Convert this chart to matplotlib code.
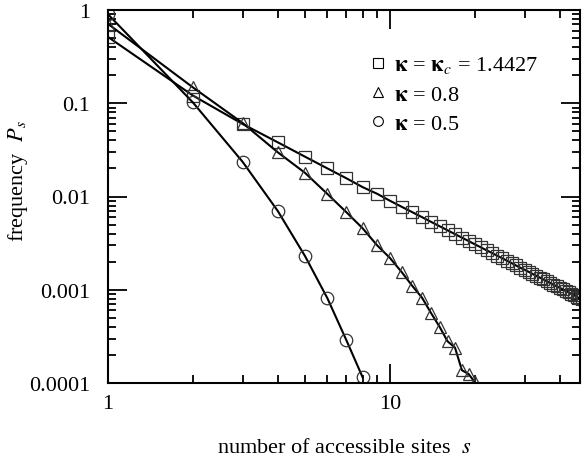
import matplotlib
matplotlib.use('Agg')
import matplotlib.pyplot as plt
from matplotlib.lines import Line2D
from matplotlib.ticker import LogLocator, FixedLocator, FixedFormatter, NullFormatter

plt.rcParams['font.family'] = ['Liberation Serif', 'DejaVu Serif']
plt.rcParams['mathtext.fontset'] = 'stix'

# kappa = kappa_c = 1.4427 (squares)
s_crit = list(range(1, 49))
p_crit = [0.514, 0.121, 0.0600, 0.0381, 0.0267, 0.0200, 0.0157, 0.0126, 0.0107, 0.0090,
          0.00776, 0.00679, 0.00600, 0.00534, 0.00480, 0.00434, 0.00395, 0.00362, 0.00333, 0.00307,
          0.00285, 0.00265, 0.00248, 0.00232, 0.00218, 0.00205, 0.00193, 0.00182, 0.00172, 0.00164,
          0.00156, 0.00148, 0.00141, 0.00135, 0.00129, 0.00123, 0.00118, 0.00113, 0.00109, 0.00105,
          0.00101, 0.00097, 0.00094, 0.00090, 0.00087, 0.00084, 0.00081, 0.00079]

# kappa = 0.8 (triangles)
s_08 = list(range(1, 21))
p_08 = [0.71, 0.148, 0.0615, 0.0298, 0.0179, 0.01064, 0.0068, 0.00456, 0.0030, 0.00219,
        0.00155, 0.00110, 0.00082, 0.00056, 0.00040, 0.00028, 0.00024, 0.000137, 0.000125, 0.000102]

# kappa = 0.5 (circles)
s_05 = [1, 2, 3, 4, 5, 6, 7, 8]
p_05 = [0.90, 0.102, 0.0236, 0.0070, 0.00229, 0.00081, 0.000289, 0.000115]

labels = [r'$\mathbf{\kappa}$ = $\mathbf{\kappa}_c$ = 1.4427', r'$\mathbf{\kappa}$ = 0.8', r'$\mathbf{\kappa}$ = 0.5']
markers = ['s', '^', 'o']

fig = plt.figure(figsize=(5.84, 4.60), dpi=100)
ax = fig.add_axes([108/584, 76/460, 472/584, 373/460])

mk = dict(mfc='none', mec='#333333', mew=0.9, ms=9, color='black', lw=1.5)
ax.plot(s_crit, p_crit, marker='s', **mk)
ax.plot(s_08, p_08, marker='^', **mk)
ax.plot(s_05, p_05, marker='o', **mk)

ax.set_xscale('log')
ax.set_yscale('log')
ax.set_xlim(1, 47.2)
ax.set_ylim(1e-4, 1)

ax.xaxis.set_major_locator(FixedLocator([1, 10]))
ax.xaxis.set_major_formatter(FixedFormatter(['1', '10']))
ax.xaxis.set_minor_locator(LogLocator(base=10, subs=range(2, 10)))
ax.xaxis.set_minor_formatter(NullFormatter())
yt = [1e-4, 1e-3, 1e-2, 1e-1, 1]
ax.yaxis.set_major_locator(FixedLocator(yt))
ax.yaxis.set_major_formatter(FixedFormatter(['0.0001', '0.001', '0.01', '0.1', '1']))
ax.yaxis.set_minor_locator(LogLocator(base=10, subs=range(2, 10)))
ax.yaxis.set_minor_formatter(NullFormatter())

ax.tick_params(which='both', direction='in', top=True, right=True, width=1.3, labelsize=16)
ax.tick_params(which='major', length=14)
ax.tick_params(axis='x', which='major', pad=8)
ax.tick_params(axis='y', which='major', pad=13)
ax.tick_params(which='minor', length=6)
for sp in ax.spines.values():
    sp.set_linewidth(1.5)

ax.set_xlabel('number of accessible sites  $s$', fontsize=16, labelpad=18)
ax.set_ylabel('frequency  $\\mathbf{\\it{P}}_{s}$', fontsize=16)
ax.yaxis.set_label_coords(-0.165, 0.545)

handles = [Line2D([], [], ls='none', marker=m, mfc='none', mec='black', mew=0.8, ms=7) for m in markers]
leg = ax.legend(handles, labels, loc='upper left', bbox_to_anchor=(0.53, 0.905), frameon=False,
                fontsize=16, handletextpad=0.2, labelspacing=0.4, handlelength=1.0, borderaxespad=0)

fig.savefig('out.png', dpi=100)
